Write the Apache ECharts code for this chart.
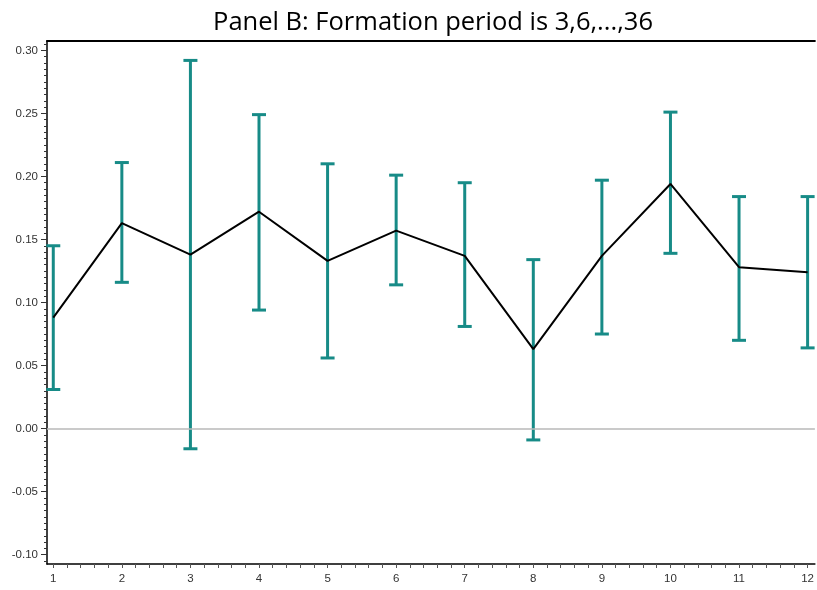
<!DOCTYPE html>
<html>
<head>
<meta charset="utf-8">
<script src="https://cdn.jsdelivr.net/npm/echarts@6/dist/echarts.min.js"></script>
<style>
  html, body { margin: 0; padding: 0; background: #fff; }
  #chart { width: 817px; height: 590px; }
</style>
</head>
<body>
<div id="chart"></div>
<script>
// Holding-period index and the mean return with its confidence band
const periods = [1, 2, 3, 4, 5, 6, 7, 8, 9, 10, 11, 12];
const means   = [0.088, 0.163, 0.138, 0.172, 0.133, 0.157, 0.137, 0.063, 0.137, 0.194, 0.128, 0.124];
const upper   = [0.145, 0.211, 0.292, 0.249, 0.210, 0.201, 0.195, 0.134, 0.197, 0.251, 0.184, 0.184];
const lower   = [0.031, 0.116, -0.016, 0.094, 0.056, 0.114, 0.081, -0.009, 0.075, 0.139, 0.070, 0.064];

// Tick labels
const xTicks = [1, 2, 3, 4, 5, 6, 7, 8, 9, 10, 11, 12];
const yTicks = [-0.10, -0.05, 0.00, 0.05, 0.10, 0.15, 0.20, 0.25, 0.30];

// Minor tick positions: 5 steps per period, 10 steps per 0.05
const xMinor = [];
for (let i = 0; i <= 56; i++) xMinor.push(+(1 + i * 0.2).toFixed(4));
const yMinor = [];
for (let i = -21; i <= 61; i++) yMinor.push(+(i * 0.005).toFixed(4));

const X_MIN = 0.9085, X_MAX = 12.106;
const Y_MIN = -0.1074, Y_MAX = 0.3074;

const labelFont = { fontFamily: 'Liberation Sans, Arial, sans-serif', fontSize: 11.5, color: '#333' };

const chart = echarts.init(document.getElementById('chart'));

const barData = periods.map((p, i) => [p, lower[i], upper[i]]);
const lineData = periods.map((p, i) => [p, means[i]]);

chart.setOption({
  animation: false,
  backgroundColor: '#fff',
  title: {
    text: 'Panel B: Formation period is 3,6,...,36',
    left: 428,
    top: 5,
    textAlign: 'center',
    textStyle: { fontFamily: 'Open Sans, Noto Sans, sans-serif', fontSize: 25.5, fontWeight: 'normal', color: '#000' }
  },
  grid: { left: 47, top: 41, right: -1, bottom: 26 },
  xAxis: [
    {
      type: 'value', min: X_MIN, max: X_MAX, position: 'bottom',
      axisLine: { onZero: false, lineStyle: { color: '#000', width: 1.5 } },
      splitLine: { show: false },
      axisTick: { customValues: xMinor, length: 4, lineStyle: { color: '#555', width: 1 } },
      axisLabel: Object.assign({ customValues: xTicks, margin: 9 }, labelFont)
    },
    {
      type: 'value', min: X_MIN, max: X_MAX, position: 'top',
      axisLine: { onZero: false, lineStyle: { color: '#000', width: 2 } },
      splitLine: { show: false }, axisTick: { show: false }, axisLabel: { show: false }
    }
  ],
  yAxis: [
    {
      type: 'value', min: Y_MIN, max: Y_MAX, position: 'left',
      axisLine: { onZero: false, lineStyle: { color: '#000', width: 1.5 } },
      splitLine: { show: false },
      axisTick: { customValues: yTicks, length: 6, lineStyle: { color: '#333', width: 1 } },
      axisLabel: Object.assign({ customValues: yTicks, margin: 9, formatter: v => v.toFixed(2) }, labelFont)
    },
    {
      type: 'value', min: Y_MIN, max: Y_MAX, position: 'left',
      axisLine: { show: false, onZero: false },
      splitLine: { show: false },
      axisTick: { customValues: yMinor, length: 3, lineStyle: { color: '#333', width: 1 } },
      axisLabel: { show: false }
    }
  ],
  series: [
    {
      type: 'line',
      data: lineData,
      symbol: 'none',
      lineStyle: { color: '#000', width: 2 },
      z: 5,
      markLine: {
        silent: true, symbol: 'none', label: { show: false },
        lineStyle: { color: '#b8b8b8', width: 1.5, type: 'solid' },
        data: [{ yAxis: 0 }]
      }
    },
    {
      type: 'custom',
      data: barData,
      z: 4,
      renderItem: function (params, api) {
        const x = api.value(0);
        const lo = api.coord([x, api.value(1)]);
        const hi = api.coord([x, api.value(2)]);
        const half = 7;
        const style = { stroke: '#178b87', lineWidth: 3, fill: null };
        return {
          type: 'group',
          children: [
            { type: 'line', shape: { x1: lo[0], y1: lo[1], x2: hi[0], y2: hi[1] }, style },
            { type: 'line', shape: { x1: hi[0] - half, y1: hi[1], x2: hi[0] + half, y2: hi[1] }, style },
            { type: 'line', shape: { x1: lo[0] - half, y1: lo[1], x2: lo[0] + half, y2: lo[1] }, style }
          ]
        };
      }
    }
  ]
});
</script>
</body>
</html>
